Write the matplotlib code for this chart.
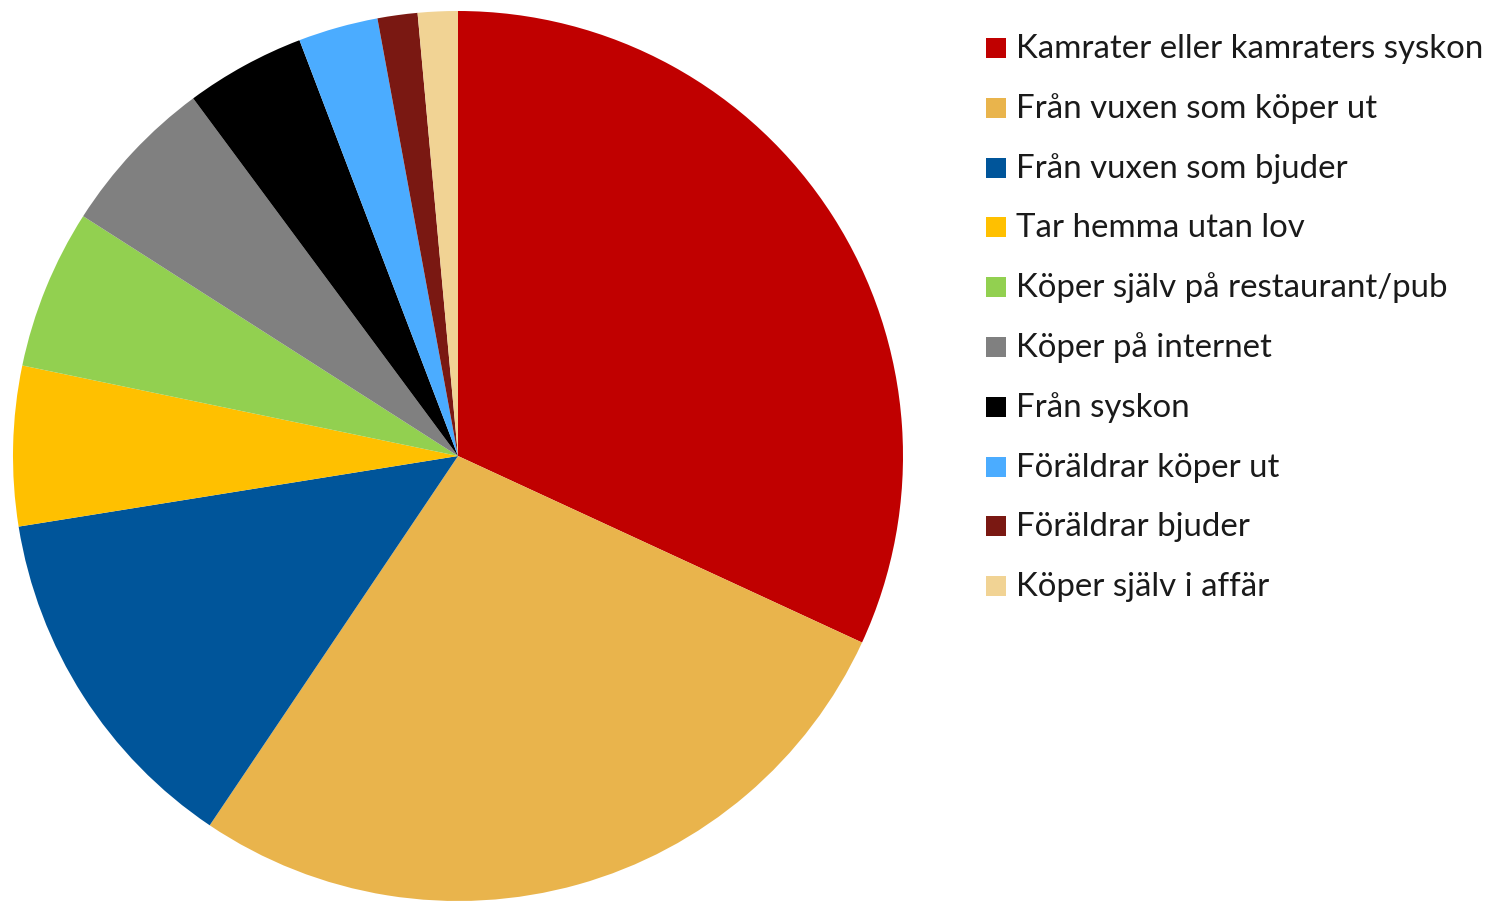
import matplotlib
matplotlib.use("Agg")
import matplotlib.pyplot as plt
from matplotlib.patches import Rectangle

labels = [
    "Kamrater eller kamraters syskon",
    "Från vuxen som köper ut",
    "Från vuxen som bjuder",
    "Tar hemma utan lov",
    "Köper själv på restaurant/pub",
    "Köper på internet",
    "Från syskon",
    "Föräldrar köper ut",
    "Föräldrar bjuder",
    "Köper själv i affär",
]
values = [22, 19, 9, 4, 4, 4, 3, 2, 1, 1]
colors = ["#C00000", "#E9B44C", "#00559A", "#FFC000", "#92D050",
          "#808080", "#000000", "#4BACFF", "#7A1812", "#F1D394"]

W, H = 1490, 901
fig = plt.figure(figsize=(W / 100, H / 100), dpi=100)

cx, cy, r = 458, 456, 445
ax = fig.add_axes([(cx - r) / W, (H - cy - r) / H, 2 * r / W, 2 * r / H])
ax.pie(values, colors=colors, startangle=90, counterclock=False, radius=1,
       wedgeprops=dict(linewidth=0))
ax.set_xlim(-1, 1)
ax.set_ylim(-1, 1)
ax.set_aspect("equal")
ax.axis("off")

y0, dy = 48, 59.8
sq = 20
for i, (lab, col) in enumerate(zip(labels, colors)):
    yc = y0 + i * dy
    fig.patches.append(Rectangle((986 / W, (H - yc - sq / 2) / H), sq / W, sq / H,
                                 transform=fig.transFigure, facecolor=col,
                                 edgecolor="none"))
    fig.text(1016 / W, (H - yc - 10) / H, lab, fontsize=23.8, family="Lato",
             color="#1a1a1a", va="baseline", ha="left")

fig.savefig("out.png", dpi=100)
